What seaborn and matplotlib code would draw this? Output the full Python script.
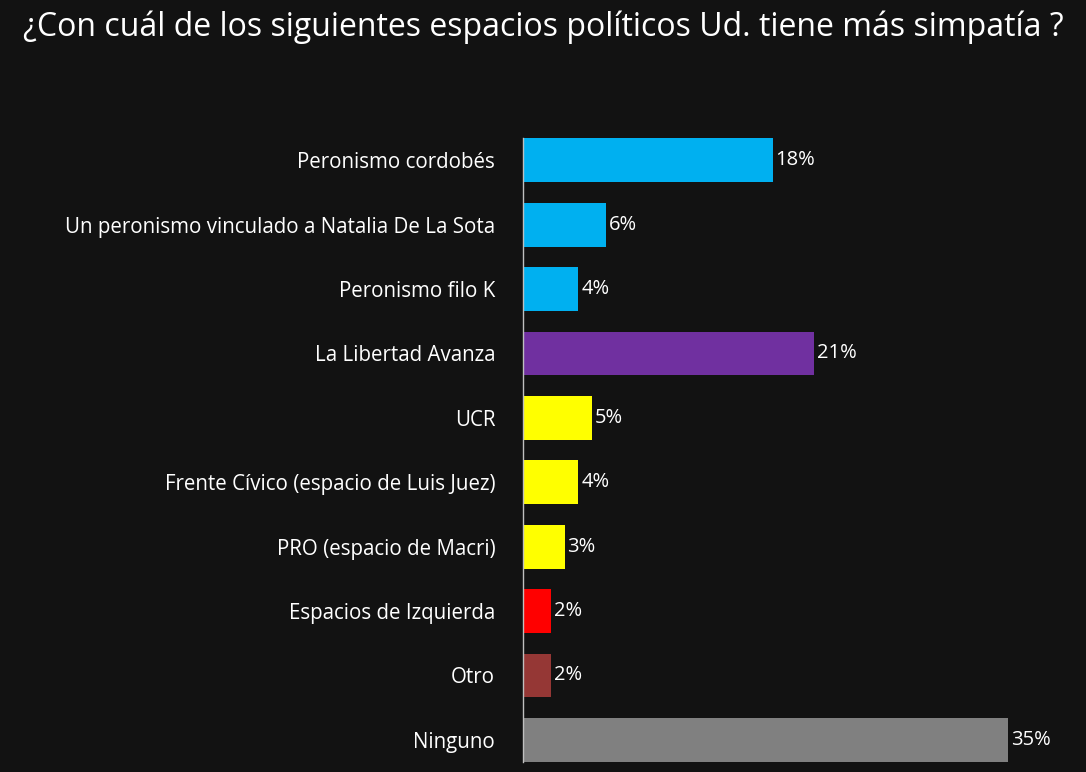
import matplotlib
matplotlib.use('Agg')
import matplotlib.pyplot as plt
import seaborn as sns
import pandas as pd

categories = ['Peronismo cordobés', 'Un peronismo vinculado a Natalia De La Sota',
              'Peronismo filo K', 'La Libertad Avanza', 'UCR',
              'Frente Cívico (espacio de Luis Juez)', 'PRO (espacio de Macri)',
              'Espacios de Izquierda', 'Otro', 'Ninguno']
values = [18, 6, 4, 21, 5, 4, 3, 2, 2, 35]
colors = ['#00B0F0', '#00B0F0', '#00B0F0', '#7030A0', '#FFFF00', '#FFFF00',
          '#FFFF00', '#FF0000', '#953735', '#808080']

df = pd.DataFrame({'cat': categories, 'val': values})

sns.set_style('dark')
plt.rcParams['font.family'] = ['Open Sans', 'DejaVu Sans']
bg = '#121212'

fig = plt.figure(figsize=(10.86, 7.72), dpi=100, facecolor=bg)
ax = fig.add_axes([0.4816, 0.0, 0.5184, 0.834])
ax.set_facecolor(bg)
sns.barplot(data=df, x='val', y='cat', hue='cat', palette=colors,
            legend=False, width=0.68, ax=ax, saturation=1, linewidth=0)

for i, v in enumerate(values):
    ax.text(v + 0.2, i, f'{v}%', va='center', ha='left', color='white', fontsize=14.5)

ax.set_xlim(0, 40.6)
ax.set_ylim(9.5, -0.5)
ax.set_xlabel('')
ax.set_ylabel('')
ax.set_xticks([])
ax.tick_params(axis='y', colors='white', labelsize=14.8, length=0, pad=20)
for s in ['top', 'right', 'bottom']:
    ax.spines[s].set_visible(False)
ax.spines['left'].set_color('#BFBFBF')
ax.spines['left'].set_linewidth(1)
ax.spines['left'].set_bounds(9.35, -0.35)
ax.grid(False)

fig.text(0.5, 0.965, '¿Con cuál de los siguientes espacios políticos Ud. tiene más simpatía ?',
         ha='center', va='center', color='white', fontsize=23)

fig.savefig('out.png', dpi=100, facecolor=bg)
